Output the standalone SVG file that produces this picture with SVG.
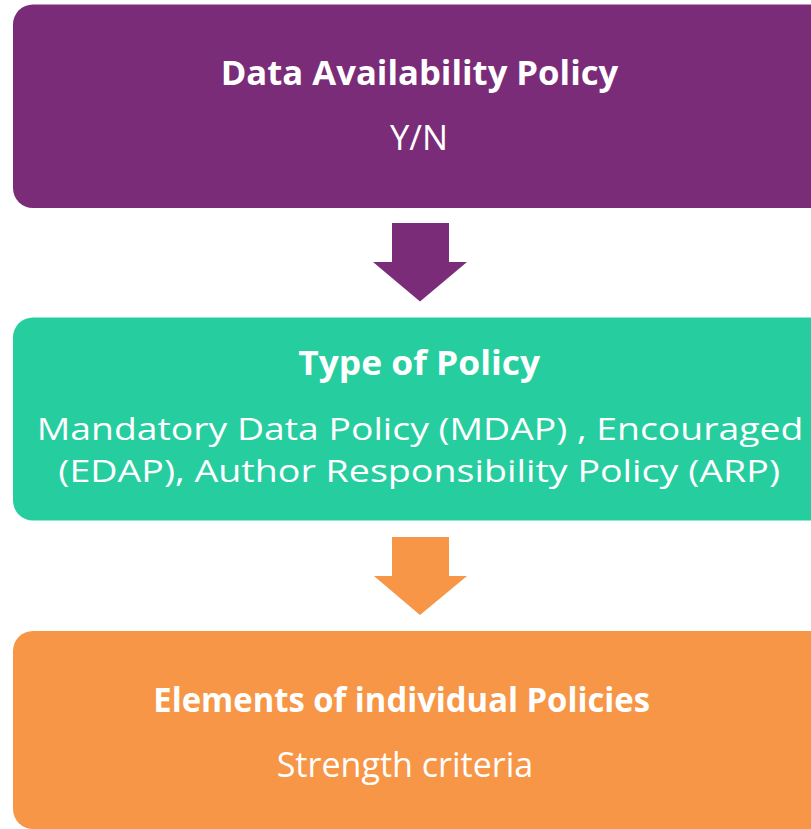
<svg xmlns="http://www.w3.org/2000/svg" width="811" height="829" viewBox="0 0 811 829">
<style>
text{font-family:"Open Sans","Noto Sans","Liberation Sans",sans-serif;fill:#ffffff;}
.t{font-weight:bold;font-size:34px;}
.s{font-size:34px;}
.m{font-size:30.5px;}
</style>
<rect x="0" y="0" width="811" height="829" fill="#ffffff"/>
<g id="connectors">
<polygon points="392,223 449,223 449,262 467,262 420,301.5 373,262 392,262" fill="#7A2C78"/>
<polygon points="392,537 449,537 449,576 467,576 420,615 374,576 392,576" fill="#F79646"/>
</g>
<g id="node-availability">
<rect x="13" y="4.5" width="830" height="203.5" rx="20" fill="#7A2C78"/>
<text class="t" x="220.7" y="85" textLength="397.6" lengthAdjust="spacingAndGlyphs">Data Availability Policy</text>
<text class="s" x="390" y="150" textLength="58" lengthAdjust="spacingAndGlyphs">Y/N</text>
</g>
<g id="node-type">
<rect x="13" y="317.5" width="830" height="203" rx="20" fill="#26CD9F"/>
<text class="t" x="298.3" y="375" textLength="241.7" lengthAdjust="spacingAndGlyphs">Type of Policy</text>
<text class="m" x="36.7" y="440" textLength="766.6" lengthAdjust="spacingAndGlyphs">Mandatory Data Policy (MDAP) , Encouraged</text>
<text class="m" x="58.3" y="482" textLength="721.7" lengthAdjust="spacingAndGlyphs">(EDAP), Author Responsibility Policy (ARP)</text>
</g>
<g id="node-elements">
<rect x="13" y="631" width="830" height="198" rx="20" fill="#F79646"/>
<text class="t" x="153.3" y="711.7" textLength="496.7" lengthAdjust="spacingAndGlyphs">Elements of individual Policies</text>
<text class="s" x="276.7" y="776.7" textLength="256.6" lengthAdjust="spacingAndGlyphs">Strength criteria</text>
</g>
</svg>
